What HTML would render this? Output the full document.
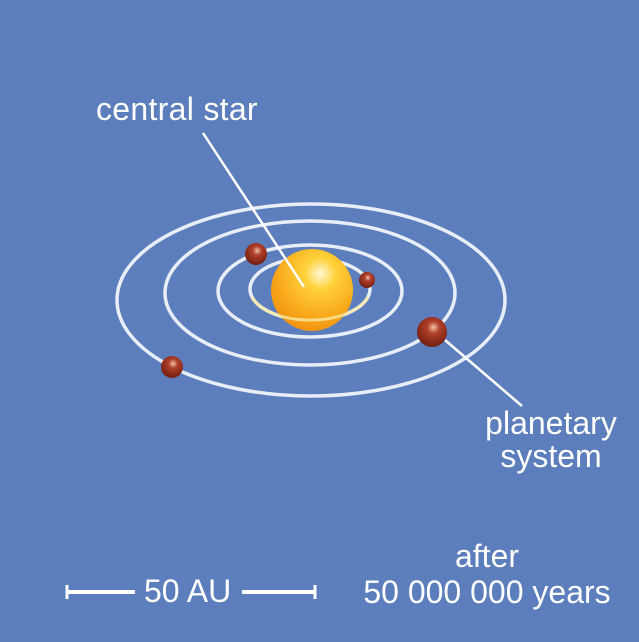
<!DOCTYPE html>
<html><head><style>
html,body{margin:0;padding:0}
body{width:639px;height:642px;background:#5c7ebc;overflow:hidden;position:relative;font-family:"Liberation Sans",sans-serif;color:#fff}
.t{position:absolute;font-size:32px;white-space:nowrap;line-height:1}
</style></head><body>
<svg width="639" height="642" style="position:absolute;left:0;top:0">
<defs>
<radialGradient id="star" cx="0.6" cy="0.3" r="0.75">
<stop offset="0" stop-color="#fff8d8"/><stop offset="0.25" stop-color="#ffd23a"/><stop offset="0.7" stop-color="#f9a81a"/><stop offset="1" stop-color="#f09010"/>
</radialGradient>
<radialGradient id="pl" cx="0.55" cy="0.35" r="0.7">
<stop offset="0" stop-color="#f0c0a8"/><stop offset="0.3" stop-color="#b04028"/><stop offset="1" stop-color="#6a1a10"/>
</radialGradient>
</defs>
<g fill="none" stroke="#e8eef8" stroke-width="3.5">
<ellipse cx="311" cy="300" rx="194" ry="96"/>
<ellipse cx="310" cy="293" rx="145" ry="72"/>
<ellipse cx="310" cy="291" rx="92" ry="46"/>
<ellipse cx="310" cy="289" rx="60" ry="31"/>
</g>
<circle cx="312" cy="290" r="41" fill="url(#star)"/>
<path d="M252,297 A60,31 0 0 0 368,297" fill="none" stroke="#f8e8a0" stroke-width="3" opacity="0.8"/>
<circle cx="256" cy="254" r="11" fill="url(#pl)"/>
<circle cx="367" cy="280" r="8" fill="url(#pl)"/>
<circle cx="432" cy="332" r="15" fill="url(#pl)"/>
<circle cx="172" cy="367" r="11" fill="url(#pl)"/>
<g stroke="#fff" stroke-width="2.5">
<line x1="203" y1="133" x2="304" y2="287"/>
<line x1="445" y1="340" x2="522" y2="406"/>
</g>
<g stroke="#fff" stroke-width="4">
<line x1="67" y1="592" x2="135" y2="592"/>
<line x1="242" y1="592" x2="315" y2="592"/>
<line x1="67" y1="585" x2="67" y2="599" stroke-width="3"/>
<line x1="315" y1="585" x2="315" y2="599" stroke-width="3"/>
</g>
</svg>
<div class="t" style="left:96px;top:93px;letter-spacing:0.3px">central star</div>
<div class="t" style="left:478px;width:146px;top:407px;text-align:center;line-height:33px">planetary<br>system</div>
<div class="t" style="left:144px;top:575px">50 AU</div>
<div class="t" style="left:355px;top:538px;width:264px;text-align:center;line-height:36px">after<br>50 000 000 years</div>
</body></html>
